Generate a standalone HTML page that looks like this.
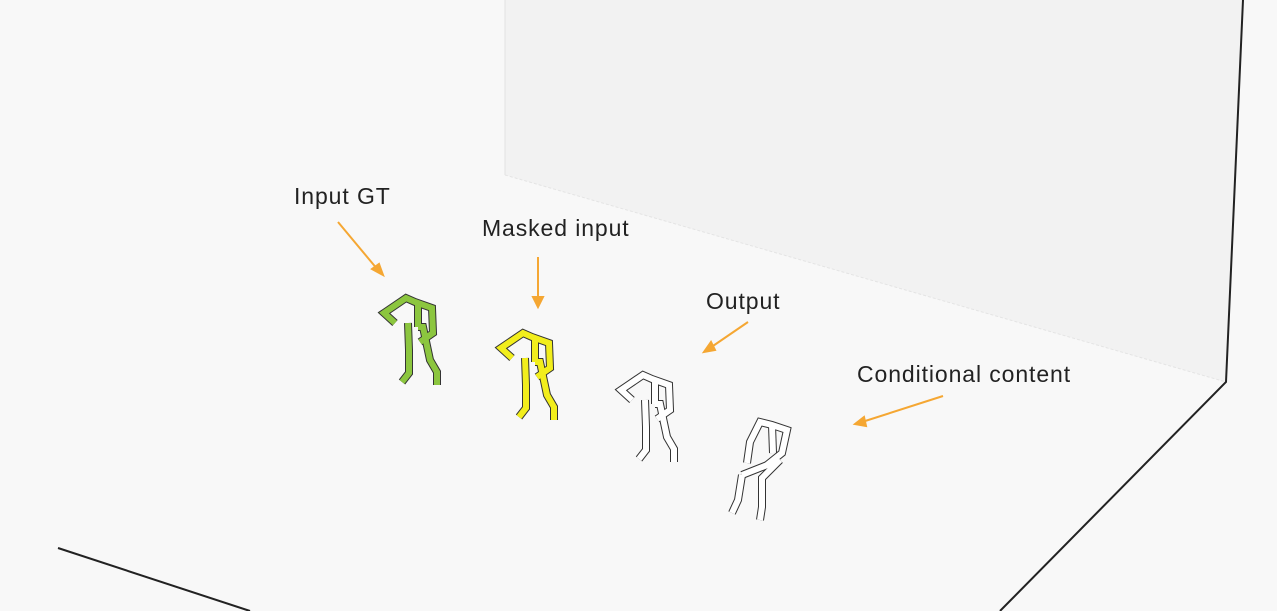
<!DOCTYPE html>
<html><head><meta charset="utf-8"><style>
html,body{margin:0;padding:0;background:#f8f8f8;}
svg{display:block;}
text{font-family:"Liberation Sans",sans-serif;font-size:23px;letter-spacing:0.9px;fill:#222;}
</style></head><body>
<svg width="1277" height="611" viewBox="0 0 1277 611">
<rect x="0" y="0" width="1277" height="611" fill="#f8f8f8"/>
<polygon points="505,0 1243,0 1226,382 505,175" fill="#f2f2f2"/>
<line x1="505" y1="0" x2="505" y2="175" stroke="#e2e2e2" stroke-width="1"/>
<line x1="505" y1="175" x2="1226" y2="382" stroke="#e4e4e4" stroke-width="1" stroke-dasharray="3,2"/>
<polyline points="1243,0 1226,382 1000,611" fill="none" stroke="#222" stroke-width="2"/>
<line x1="58" y1="548" x2="250" y2="611" stroke="#222" stroke-width="2"/>

<g id="figs"></g>

<g stroke="#f5a733" stroke-width="2" fill="#f5a733">
<line x1="338" y1="222" x2="378" y2="270"/><polygon points="383,275 372,269 379,264" />
<line x1="538" y1="257" x2="538" y2="300"/><polygon points="538,307 533,297 543,297"/>
<line x1="748" y1="322" x2="710" y2="348"/><polygon points="704,352 711,342 715,350"/>
<line x1="943" y1="396" x2="862" y2="422"/><polygon points="855,424 864,417 866,426"/>
</g>
<text x="294" y="204">Input GT</text>
<text x="482" y="236">Masked input</text>
<text x="706" y="309">Output</text>
<text x="857" y="382">Conditional content</text>
</svg>
<script>
const poseA = [
 [[395,323],[384,313],[406,298],[415,302],[432,308],[433,333],[420,342]],
 [[418,303],[418,327]],
 [[408,323],[409,350],[409,373],[402,382]],
 [[418,327],[423,327],[430,360],[437,372],[437,385]]
];
const poseC = [
 [[747,463],[750,442],[760,422],[772,425],[787,430],[782,453],[767,465]],
 [[772,425],[773,453]],
 [[742,475],[780,460]],
 [[742,475],[738,500],[732,513]],
 [[780,460],[762,478],[762,507],[760,520]]
];
const figures = [
 {name:'figure-input-gt', pose:poseA, dx:0, dy:0, color:'#8cc63f'},
 {name:'figure-masked-input', pose:poseA, dx:117, dy:35, color:'#f2ee1c'},
 {name:'figure-output', pose:poseA, dx:237, dy:77, color:'#ffffff'},
 {name:'figure-conditional', pose:poseC, dx:0, dy:0, color:'#ffffff'}
];
const NS='http://www.w3.org/2000/svg';
const g=document.getElementById('figs');
figures.forEach(f=>{
 const fg=document.createElementNS(NS,'g');
 
 
 [['#333',8],[f.color,6]].forEach(([c,w])=>{
  f.pose.forEach(seg=>{
   const p=document.createElementNS(NS,'polyline');
   p.setAttribute('points',seg.map(q=>(q[0]+f.dx)+','+(q[1]+f.dy)).join(' '));
   p.setAttribute('fill','none');p.setAttribute('stroke',c);p.setAttribute('stroke-width',w);
   p.setAttribute('stroke-linejoin','miter');
   
   
   fg.appendChild(p);
  });
 });
 g.appendChild(fg);
});
</script>
</body></html>
